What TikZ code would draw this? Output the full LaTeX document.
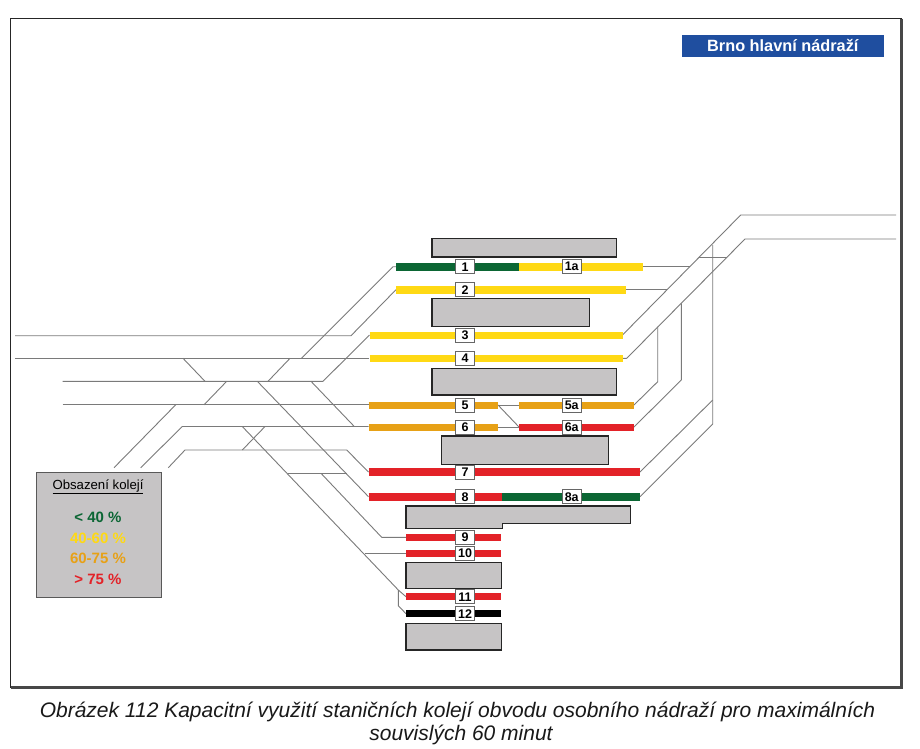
\documentclass[tikz,border=0pt]{standalone}
\usepackage{fontspec}
\setmainfont{Liberation Sans}
\usepackage{tikz}
\definecolor{occgreen}{HTML}{0B6634}
\definecolor{occyellow}{HTML}{FFD914}
\definecolor{occorange}{HTML}{E7A116}
\definecolor{occred}{HTML}{E32228}
\definecolor{platgray}{HTML}{C6C4C5}
\definecolor{titleblue}{HTML}{1F4E9F}

\begin{document}
\begin{tikzpicture}[
    x=1pt, y=-1pt,
    rail/.style={draw=black!52, line width=0.9pt, line join=round},
    track/.style={line width=8pt},
    sidetrack/.style={line width=7pt},
    platform/.style={draw=black!85, line width=1.5pt, fill=platgray},
    tracklabel/.style={draw=black!60, line width=0.8pt, fill=white, inner sep=0pt, minimum width=19pt, minimum height=14pt, font=\fontsize{12.5}{14}\selectfont\bfseries},
    legendtext/.style={font=\fontsize{15}{17}\selectfont\bfseries}
  ]
  \useasboundingbox (0,0) rectangle (920,748);
  \fill[white] (0,0) rectangle (920,748);

  % frame
  \draw[black!85, line width=1.5pt] (901.7,18.5) -- (10.5,18.5) -- (10.5,687.7);
  \draw[black!72, line width=2.8pt] (901.7,18.5) -- (901.7,687.7) -- (10.5,687.7);

  % title
  \node[fill=titleblue, text=white, minimum width=201.7pt, minimum height=22.3pt, inner sep=0pt, font=\fontsize{16.3}{18}\selectfont\bfseries] (title) at (782.8,45.8) {Brno hlavní nádraží};

  % rails, west side
  \draw[rail] (15,335.7) -- (351,335.7) -- (396,289.7);
  \draw[rail] (15,358.3) -- (369,358.3);
  \draw[rail] (62.7,381.3) -- (323,381.3) -- (369.5,335);
  \draw[rail] (62.7,404.8) -- (368.5,404.8);
  \draw[rail] (140.7,467.7) -- (182.3,426.5) -- (368.5,426.5);
  \draw[rail] (168.3,467.7) -- (185,450) -- (346.7,450) -- (368.5,472);
  \draw[rail] (396,266.7) -- (393,266.7) -- (301.5,358.3);
  \draw[rail] (290,358.3) -- (268,381.3);
  \draw[rail] (183,358.3) -- (205,381.3);
  \draw[rail] (226.7,381.3) -- (204,404.8);
  \draw[rail] (175.7,404.8) -- (114,467.7);
  \draw[rail] (265,426.5) -- (242.3,450);
  \draw[rail] (242.3,426.5) -- (398.3,590) -- (406,596.7);
  \draw[rail] (257.3,381.3) -- (368.5,496.7);
  \draw[rail] (311,381.3) -- (354.3,426.5);
  \draw[rail] (288.3,473.3) -- (346.7,473.3);
  \draw[rail] (321,473.3) -- (381.7,537.3) -- (406,537.3);
  \draw[rail] (365,553.3) -- (406,553.3);
  \draw[rail] (398.3,590) -- (398.3,605.7) -- (406,613.7);

  % rails, middle
  \draw[rail] (498,405) -- (519,405);
  \draw[rail] (498,427) -- (519,427);
  \draw[rail] (498,405) -- (519,427);

  % rails, east side
  \draw[rail] (643,266.7) -- (690,266.7);
  \draw[rail] (625.7,289.7) -- (666.7,289.7);
  \draw[rail] (622.5,335) -- (740.7,215) -- (896,215);
  \draw[rail] (622.5,358.3) -- (626.7,358.3) -- (745,239) -- (896,239);
  \draw[rail] (699.3,257.7) -- (726.7,257.7);
  \draw[rail] (712.7,245) -- (712.7,424) -- (640,496.7);
  \draw[rail] (712.7,400) -- (640,472);
  \draw[rail] (681.3,303.3) -- (681.3,380) -- (634,427);
  \draw[rail] (657.7,326.7) -- (657.7,381.7) -- (634,405);

  % platforms
  \draw[platform] (432,238.7) rectangle (616.7,257);
  \draw[platform] (432,298.3) rectangle (589.7,326.3);
  \draw[platform] (432,368.3) rectangle (616.7,395);
  \draw[platform] (441.7,436) rectangle (608.7,464.3);
  \draw[platform] (406,506) -- (630.7,506) -- (630.7,523.7) -- (502.7,523.7) -- (502.7,528.7) -- (406,528.7) -- cycle;
  \draw[platform] (406,562.7) rectangle (501.7,588.3);
  \draw[platform] (406,623.7) rectangle (501.7,650);

  % tracks
  \draw[track, occgreen] (396,266.7) -- (519,266.7);
  \draw[track, occyellow] (519,266.7) -- (643,266.7);
  \draw[track, occyellow] (396,289.7) -- (625.7,289.7);
  \draw[sidetrack, occyellow] (369.5,335) -- (622.5,335);
  \draw[sidetrack, occyellow] (369.5,358.3) -- (622.5,358.3);
  \draw[sidetrack, occorange] (368.5,405) -- (498,405);
  \draw[sidetrack, occorange] (519,405) -- (634,405);
  \draw[sidetrack, occorange] (368.5,427) -- (498,427);
  \draw[sidetrack, occred] (519,427) -- (634,427);
  \draw[track, occred] (368.5,472) -- (640,472);
  \draw[track, occred] (368.5,496.7) -- (502,496.7);
  \draw[track, occgreen] (502,496.7) -- (640,496.7);
  \draw[sidetrack, occred] (406,537.3) -- (501,537.3);
  \draw[sidetrack, occred] (406,553.3) -- (501,553.3);
  \draw[sidetrack, occred] (406,596.7) -- (501,596.7);
  \draw[sidetrack, black] (406,613.7) -- (501,613.7);

  % track numbers
  \node[tracklabel] (t1) at (465,266.7) {1};
  \node[tracklabel] (t1a) at (571.7,266.7) {1a};
  \node[tracklabel] (t2) at (465,289.7) {2};
  \node[tracklabel] (t3) at (465,335) {3};
  \node[tracklabel] (t4) at (465,358.3) {4};
  \node[tracklabel] (t5) at (465,405) {5};
  \node[tracklabel] (t5a) at (571.7,405) {5a};
  \node[tracklabel] (t6) at (465,427) {6};
  \node[tracklabel] (t6a) at (571.7,427) {6a};
  \node[tracklabel] (t7) at (465,472) {7};
  \node[tracklabel] (t8) at (465,496.7) {8};
  \node[tracklabel] (t8a) at (571.7,496.7) {8a};
  \node[tracklabel] (t9) at (465,537) {9};
  \node[tracklabel] (t10) at (465,553.3) {10};
  \node[tracklabel] (t11) at (465,596.7) {11};
  \node[tracklabel] (t12) at (465,613.7) {12};

  % legend
  \node[draw=black!65, line width=0.8pt, fill=platgray, minimum width=125pt, minimum height=125pt, inner sep=0pt] (legend) at (98.5,534.5) {};
  \node[font=\fontsize{13.2}{15}\selectfont] (legendtitle) at (98,486.7) {\underline{Obsazení kolejí}};
  \node[legendtext, text=occgreen] (l1) at (98,517) {< 40 \%};
  \node[legendtext, text=occyellow] (l2) at (98,538) {40-60 \%};
  \node[legendtext, text=occorange] (l3) at (98,558.7) {60-75 \%};
  \node[legendtext, text=occred] (l4) at (98,579) {> 75 \%};

  % caption
  \node[font=\fontsize{21}{24}\selectfont\itshape, text=black!90] (cap1) at (457.5,711.7) {Obrázek 112 Kapacitní využití staničních kolejí obvodu osobního nádraží pro maximálních};
  \node[font=\fontsize{21}{24}\selectfont\itshape, text=black!90] (cap2) at (461,734.5) {souvislých 60 minut};
\end{tikzpicture}
\end{document}
